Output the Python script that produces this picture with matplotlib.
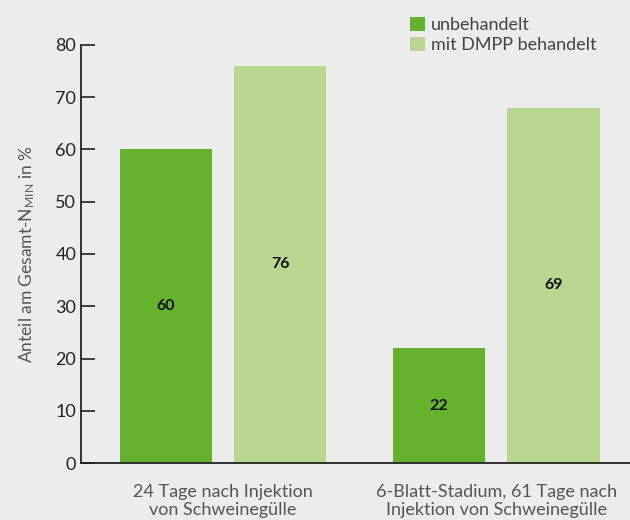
import matplotlib
matplotlib.use("Agg")
import matplotlib.pyplot as plt
from matplotlib.patches import Patch
import numpy as np

categories = ["24 Tage nach Injektion\nvon Schweinegülle",
              "6-Blatt-Stadium, 61 Tage nach\nInjektion von Schweinegülle"]
series_names = ["unbehandelt", "mit DMPP behandelt"]
untreated = [60, 22]
treated = [76, 68]
untreated_labels = ["60", "22"]
treated_labels = ["76", "69"]
yticks = [0, 10, 20, 30, 40, 50, 60, 70, 80]

FONT = "Lato"
plt.rcParams["font.family"] = [FONT, "DejaVu Sans"]
plt.rcParams["mathtext.fontset"] = "custom"
plt.rcParams["mathtext.rm"] = FONT
plt.rcParams["mathtext.it"] = FONT
plt.rcParams["mathtext.bf"] = FONT + ":bold"

BG = "#ececec"
C_DARK = "#64b22e"
C_LIGHT = "#b8d68f"
AX_COL = "#222222"

fig = plt.figure(figsize=(6.3, 5.2), dpi=100, facecolor=BG)
ax = fig.add_axes([81/630, 57/520, 549/630, 418/520])
ax.set_facecolor(BG)

x = np.arange(len(categories))
w = 0.337
off = 0.21
b1 = ax.bar(x - off, untreated, w, color=C_DARK, zorder=2)
b2 = ax.bar(x + off, treated, w, color=C_LIGHT, zorder=2)

for bars, labs in ((b1, untreated_labels), (b2, treated_labels)):
    for r, lab in zip(bars, labs):
        ax.text(r.get_x() + r.get_width()/2, r.get_height()/2, lab,
                ha="center", va="center", fontsize=11.5, fontweight="bold",
                color="#111111", zorder=3)

ax.set_ylim(0, 80)
ax.set_xlim(-0.52, 1.49)
ax.set_yticks(yticks)
ax.tick_params(axis="y", direction="in", length=10, width=1.2, colors=AX_COL,
               labelsize=13, pad=3.5)
ax.tick_params(axis="x", length=0, pad=15, labelsize=13, labelcolor="#555555")
ax.set_xticks(x)
ax.set_xticklabels(categories, linespacing=1.2)
for s in ("top", "right"):
    ax.spines[s].set_visible(False)
for s in ("left", "bottom"):
    ax.spines[s].set_color(AX_COL)
    ax.spines[s].set_linewidth(1.3)
ax.spines["bottom"].set_bounds(-0.52, 1.6)

ax.set_ylabel(r"Anteil am Gesamt-N$_{\mathrm{MIN}}$ in %", fontsize=12.5,
              color="#555555", labelpad=13)

handles = [Patch(facecolor=C_DARK), Patch(facecolor=C_LIGHT)]
fig.legend(handles, series_names, loc="upper left",
           bbox_to_anchor=(410/630, 1 - 17/520), frameon=False,
           fontsize=13, handlelength=0.83, handleheight=0.83,
           handletextpad=0.35, labelspacing=0.2, borderpad=0,
           borderaxespad=0, labelcolor="#444444")

fig.savefig("out.png", dpi=100, facecolor=BG)
